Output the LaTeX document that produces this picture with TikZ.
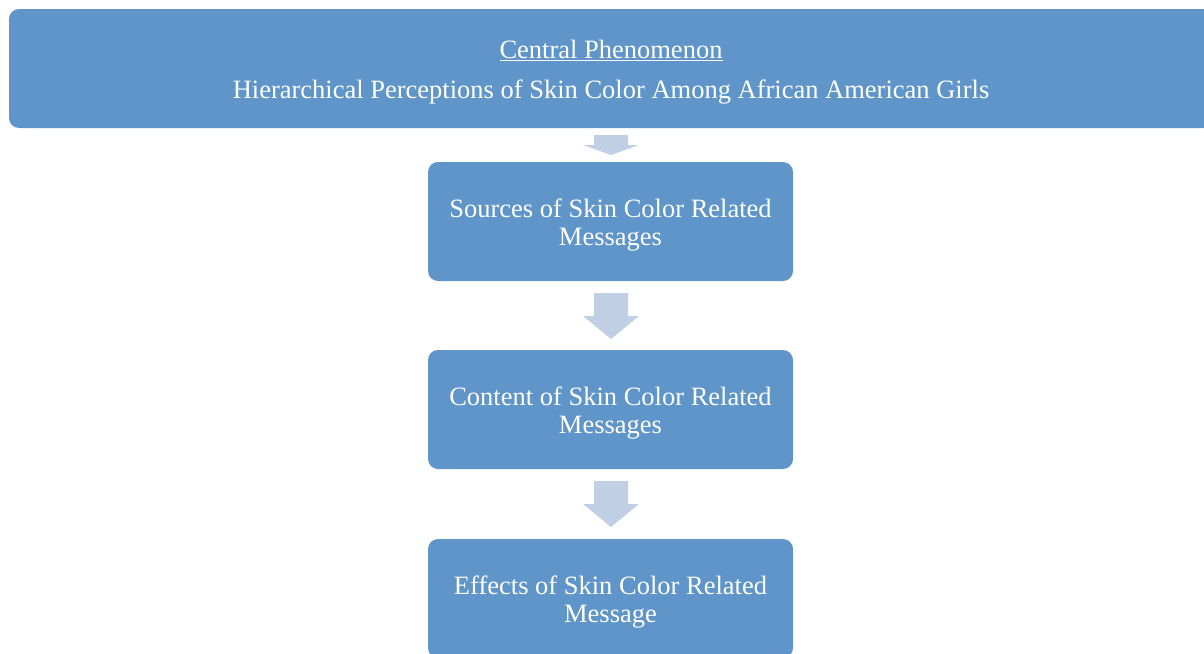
\documentclass[tikz,border=0pt]{standalone}
\usepackage{fontspec}
\setmainfont{Liberation Serif}
\definecolor{boxblue}{HTML}{5F95C8}
\definecolor{arrowblue}{HTML}{C0CFE4}
\begin{document}
\begin{tikzpicture}[x=1pt,y=-1pt,
  blockbox/.style={fill=boxblue, draw=none, rounded corners=10pt,
    inner sep=0pt, minimum width=365pt, minimum height=119pt},
  topbox/.style={blockbox, minimum width=1204pt},
  boxtext/.style={text=white, align=center, inner sep=0pt,
    font=\fontsize{26.5}{28}\selectfont},
  blockarrow/.style={fill=arrowblue, draw=none}]
\useasboundingbox (0,0) rectangle (1204,653);
\clip (0,0) rectangle (1204,653);
\node[topbox] (top) at (611,68.5) {};
\node[blockbox] (sources) at (610.5,221.5) {};
\node[blockbox] (content) at (610.5,409.5) {};
\node[blockbox] (effects) at (610.5,598.5) {};
\node[boxtext] (toptext) at ([yshift=-4pt]top.center) {\underline{Central Phenomenon}\\[12pt]Hierarchical Perceptions of Skin Color Among African American Girls};
\node[boxtext] (sourcestext) at ([yshift=-4pt]sources.center) {Sources of Skin Color Related\\Messages};
\node[boxtext] (contenttext) at ([yshift=-4pt]content.center) {Content of Skin Color Related\\Messages};
\node[boxtext] (effectstext) at ([yshift=-4pt]effects.center) {Effects of Skin Color Related\\Message};
% block arrows
\foreach \t/\b/\p in {135/145/155, 293/316/339, 481/504/527}{
  \fill[blockarrow] (594,\t) -- (628,\t) -- (628,\b) -- (639,\b) -- (611,\p) -- (583,\b) -- (594,\b) -- cycle;
}
\end{tikzpicture}
\end{document}
